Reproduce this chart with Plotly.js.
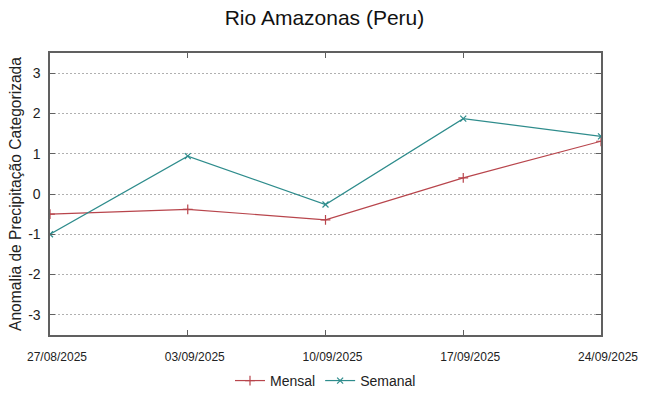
<!DOCTYPE html>
<html>
<head>
<meta charset="utf-8">
<script src="https://cdn.plot.ly/plotly-3.0.1.min.js"></script>
<style>html,body{margin:0;padding:0;background:#fff}#chart{width:649px;height:396px}</style>
</head>
<body>
<div id="chart"></div>
<script>
const dates = ['2025-08-27', '2025-09-03', '2025-09-10', '2025-09-17', '2025-09-24'];
const mensal = [-0.50, -0.38, -0.64, 0.40, 1.31];
const semanal = [-1.00, 0.94, -0.26, 1.87, 1.43];
const yTicks = [-3, -2, -1, 0, 1, 2, 3];
const yTickText = ['-3', '-2', '-1', '0', '1', '2', '3'];

const font = 'Liberation Sans, Arial, sans-serif';
const traces = [
  {x: dates, y: mensal, name: 'Mensal', type: 'scatter', mode: 'lines+markers',
   line: {color: '#b8454c', width: 1.2},
   marker: {symbol: 'cross-thin-open', size: 7, line: {color: '#b8454c', width: 1.2}}},
  {x: dates, y: semanal, name: 'Semanal', type: 'scatter', mode: 'lines+markers',
   line: {color: '#2e8c8c', width: 1.2},
   marker: {symbol: 'x-thin-open', size: 6, line: {color: '#2e8c8c', width: 1.2}}}
];
const layout = {
  width: 649, height: 396,
  margin: {l: 50, r: 48, t: 53, b: 61, autoexpand: false},
  paper_bgcolor: '#fff', plot_bgcolor: '#fff',
  font: {family: font, color: '#222'},
  title: {text: 'Rio Amazonas (Peru)', x: 0.5, xref: 'container', y: 1 - 18/396, yref: 'container', yanchor: 'middle', font: {size: 21, family: font, color: '#111'}},
  xaxis: {
    type: 'date', range: [dates[0], dates[dates.length - 1]],
    tickvals: dates, tickformat: '%d/%m/%Y', automargin: false,
    tickfont: {size: 12, family: font, color: '#222'}, ticklabelstandoff: 10, ticklabelshift: 7,
    showgrid: false, zeroline: false,
    showline: true, linecolor: '#606060', linewidth: 1.6, mirror: 'ticks',
    ticks: 'inside', ticklen: 5, tickcolor: '#606060', tickwidth: 1
  },
  yaxis: {
    range: [-3.5, 3.5], tickvals: yTicks, ticktext: yTickText, automargin: false,
    tickfont: {size: 14, family: font, color: '#222'}, ticklabelstandoff: 5,
    title: {text: 'Anomalia de Precipitação Categorizada', font: {size: 15.6, family: font, color: '#222'}, standoff: 2},
    showgrid: true, gridcolor: '#b0b0b0', griddash: '2px,2px', gridwidth: 1,
    zeroline: false,
    showline: true, linecolor: '#606060', linewidth: 1.6, mirror: 'ticks',
    ticks: 'inside', ticklen: 5, tickcolor: '#606060', tickwidth: 1
  },
  showlegend: true,
  legend: {orientation: 'h', x: 0.5, xanchor: 'center', y: -0.163, yanchor: 'middle',
    font: {size: 14, family: font, color: '#222'}, bgcolor: 'rgba(0,0,0,0)'}
};
Plotly.newPlot('chart', traces, layout, {displayModeBar: false, staticPlot: true});
</script>
</body>
</html>
